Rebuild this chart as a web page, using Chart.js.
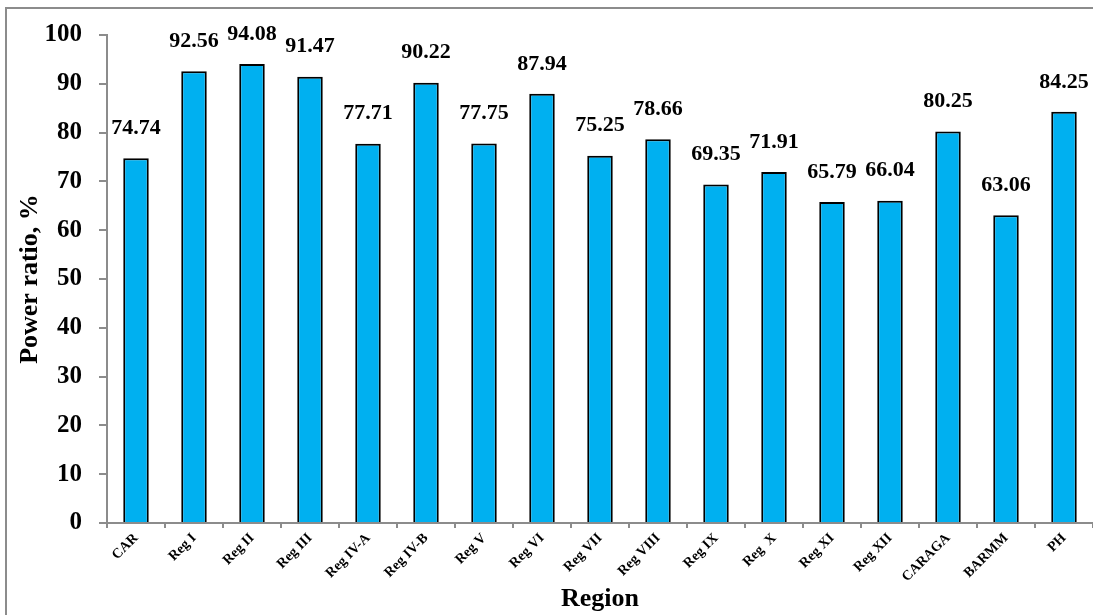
<!DOCTYPE html>
<html>
<head>
<meta charset="utf-8">
<script src="https://cdn.jsdelivr.net/npm/chart.js@4/dist/chart.umd.min.js"></script>
<style>
  html, body { margin: 0; padding: 0; background: #fff; overflow: hidden; }
  #wrap { position: relative; width: 1093px; height: 615px; }
  #frame { position: absolute; left: 5px; top: 7px; width: 1100px; height: 700px; border: 2px solid #8c8c8c; pointer-events: none; }
</style>
</head>
<body>
<div id="wrap">
  <canvas id="chart" width="1093" height="615"></canvas>
  <div id="frame"></div>
</div>
<script>
const regions = ['CAR', 'Reg I', 'Reg II', 'Reg III', 'Reg IV-A', 'Reg IV-B', 'Reg V', 'Reg VI', 'Reg VII',
  'Reg VIII', 'Reg IX', 'Reg  X', 'Reg XI', 'Reg XII', 'CARAGA', 'BARMM', 'PH'];
const powerRatio = [74.74, 92.56, 94.08, 91.47, 77.71, 90.22, 77.75, 87.94, 75.25,
  78.66, 69.35, 71.91, 65.79, 66.04, 80.25, 63.06, 84.25];
const yTicks = [0, 10, 20, 30, 40, 50, 60, 70, 80, 90, 100];

const serif = "'Liberation Serif', 'Times New Roman', serif";
const axisGray = '#8c8c8c';

// value labels above each bar
const valueLabels = {
  id: 'valueLabels',
  afterDatasetsDraw(chart) {
    const ctx = chart.ctx;
    const meta = chart.getDatasetMeta(0);
    ctx.save();
    ctx.font = `bold 22px ${serif}`;
    ctx.fillStyle = '#000';
    ctx.textAlign = 'center';
    ctx.textBaseline = 'middle';
    meta.data.forEach((bar, i) => {
      ctx.fillText(powerRatio[i].toFixed(2), bar.x, bar.y - 30);
    });
    ctx.restore();
  }
};

new Chart(document.getElementById('chart'), {
  type: 'bar',
  data: {
    labels: regions,
    datasets: [{
      data: powerRatio,
      backgroundColor: '#00B0F0',
      borderColor: '#000',
      borderWidth: 2,
      categoryPercentage: 1,
      barPercentage: 0.44
    }]
  },
  options: {
    responsive: false,
    animation: false,
    layout: { padding: { left: 6, top: 35, right: 0, bottom: 0 } },
    plugins: { legend: { display: false }, tooltip: { enabled: false } },
    scales: {
      x: {
        grid: { drawOnChartArea: false, tickLength: 5, color: axisGray, lineWidth: 2 },
        border: { color: axisGray, width: 2 },
        ticks: { autoSkip: false, minRotation: 45, maxRotation: 45, padding: 2, color: '#000',
          font: { family: serif, size: 14, weight: 'bold' } },
        title: { display: true, text: 'Region', color: '#000', padding: { top: 0, bottom: 0 },
          font: { family: serif, size: 26, weight: 'bold' } },
        afterFit(s) { s.height = 92; }
      },
      y: {
        min: 0,
        max: 100,
        afterBuildTicks(s) { s.ticks = yTicks.map(v => ({ value: v })); },
        grid: { drawOnChartArea: false, tickLength: 8, color: axisGray, lineWidth: 2 },
        border: { color: axisGray, width: 2 },
        ticks: { padding: 17, color: '#000', font: { family: serif, size: 25, weight: 'bold' } },
        title: { display: true, text: 'Power ratio, %', color: '#000', padding: { top: 9, bottom: 0 },
          font: { family: serif, size: 26, weight: 'bold' } },
        afterFit(s) { s.width = 101; }
      }
    }
  },
  plugins: [valueLabels]
});
</script>
</body>
</html>
